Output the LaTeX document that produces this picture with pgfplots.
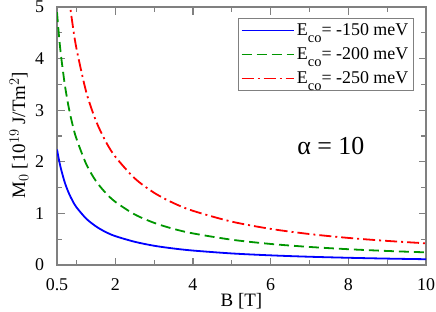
\documentclass[border=0pt]{standalone}
\usepackage{fontspec}
\setmainfont{Liberation Serif}
\usepackage{pgfplots}
\pgfplotsset{compat=1.18}
\definecolor{axgray}{RGB}{128,128,128}
\definecolor{lblue}{RGB}{0,0,255}
\definecolor{lgreen}{RGB}{0,150,0}
\definecolor{lred}{RGB}{255,0,0}
\newcommand{\Eco}{E\raisebox{-0.38em}{\fontsize{14.5}{14.5}\selectfont co}}
\begin{document}
\fontsize{17}{20}\selectfont
\begin{tikzpicture}
\path[use as bounding box] (-57bp,-47bp) rectangle (379bp,265bp);
\begin{axis}[
  at={(0,0)}, anchor=south west,
  scale only axis, width=369bp, height=258bp,
  xmin=0.5, xmax=10, ymin=0, ymax=5,
  xtick={0.5,2,4,6,8,10},
  xticklabels={0.5,2,4,6,8,10},
  minor xtick={1,3,5,7,9},
  ytick={0,1,2,3,4,5},
  minor ytick={0.5,1.5,2.5,3.5,4.5},
  tick align=inside,
  major tick length=7.5bp, minor tick length=5bp,
  axis line style={axgray, line width=1.2bp},
  every tick/.style={axgray, line width=1.2bp},
  tick label style={font=\fontsize{18}{20}\selectfont},
  /pgf/number format/assume math mode=true,
  xticklabel style={yshift=-8bp},
  yticklabel style={xshift=-7bp},
  xlabel={B [T]},
  ylabel={M$_0$ [10$^{19}$ J/Tm$^2$]},
  label style={font=\fontsize{19}{21}\selectfont},
  xlabel style={at={(rel axis cs:0.5,-0.14)}, anchor=center},
  ylabel style={at={(rel axis cs:-0.103,0.504)}, anchor=center},
  legend style={at={(rel axis cs:0.967,0.958)}, anchor=north east, draw=axgray, line width=1bp,
    font=\fontsize{18}{19}\selectfont, inner sep=2.5bp, row sep=4.5bp,
    nodes={inner sep=2.5bp}},
  legend cell align=left,
  legend image code/.code={\draw[mark repeat=2,mark phase=2,#1,line width=1.8bp] plot coordinates {(0bp,0bp) (26bp,0bp) (52bp,0bp)};},
  clip=true,
]
\addplot[color=lblue, draw=lblue, line width=1.8bp, smooth] coordinates {
(0.5,2.24) (0.55,2.04) (0.6,1.87) (0.7,1.60) (0.8,1.40) (0.9,1.245) (1,1.12) (1.25,0.90) (1.5,0.75) (1.75,0.64) (2,0.56) (2.5,0.45) (3,0.373) (3.5,0.32) (4,0.28) (5,0.224) (6,0.187) (7,0.16) (8,0.14) (9,0.124) (10,0.112)};
\addlegendentry{\Eco= -150 meV}
\addplot[color=lgreen, draw=lgreen, line width=1.8bp, dash pattern=on 10bp off 5bp, smooth] coordinates {
(0.5,4.9) (0.55,4.45) (0.6,4.08) (0.7,3.50) (0.8,3.06) (0.9,2.72) (1,2.45) (1.25,1.96) (1.5,1.63) (1.75,1.40) (2,1.225) (2.5,0.98) (3,0.817) (3.5,0.70) (4,0.6125) (5,0.49) (6,0.408) (7,0.35) (8,0.306) (9,0.272) (10,0.245)};
\addlegendentry{\Eco= -200 meV}
\addplot[color=lred, draw=lred, line width=1.8bp, dash pattern=on 12bp off 4bp on 2bp off 4bp, smooth] coordinates {
(0.8,5.25) (0.84,5.0) (0.9,4.67) (1,4.2) (1.25,3.36) (1.5,2.8) (1.75,2.4) (2,2.1) (2.5,1.68) (3,1.4) (3.5,1.2) (4,1.05) (5,0.84) (6,0.70) (7,0.60) (8,0.525) (9,0.467) (10,0.42)};
\addlegendentry{\Eco= -250 meV}
\node[font=\fontsize{26}{28}\selectfont] at (axis cs:7.55,2.3) {α = 10};
\end{axis}
\end{tikzpicture}
\end{document}
